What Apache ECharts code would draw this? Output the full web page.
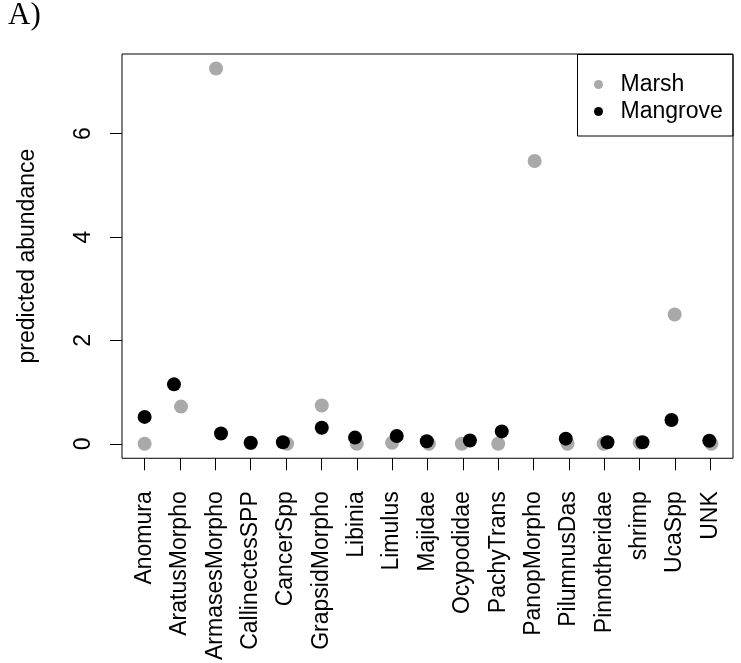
<!DOCTYPE html>
<html>
<head>
<meta charset="utf-8">
<script src="https://cdn.jsdelivr.net/npm/echarts@6/dist/echarts.min.js"></script>
<style>
  html, body { margin: 0; padding: 0; background: #fff; }
  #chart { width: 741px; height: 663px; }
</style>
</head>
<body>
<div id="chart"></div>
<script>
// Crab taxa on the x axis
const categories = [
  'Anomura', 'AratusMorpho', 'ArmasesMorpho', 'CallinectesSPP', 'CancerSpp',
  'GrapsidMorpho', 'Libinia', 'Limulus', 'Majidae', 'Ocypodidae', 'PachyTrans',
  'PanopMorpho', 'PilumnusDas', 'Pinnotheridae', 'shrimp', 'UcaSpp', 'UNK'
];

// Predicted abundance per taxon and habitat (null = not predicted)
const marsh = [0, 0.72, 7.26, 0.01, 0, 0.74, 0, 0.02, 0, 0, 0, 5.47, 0, 0, 0.02, 2.50, 0];
const mangrove = [0.52, 1.15, 0.20, 0.02, 0.03, 0.31, 0.12, 0.15, 0.05, 0.065, 0.24, null, 0.10, 0.03, 0.03, 0.46, 0.06];

// Horizontal jitter applied to each point (in category units)
const marshJitter = [0, 0.03, 0.02, 0, 0.03, 0.01, 0, 0, 0.04, -0.03, 0, 0.03, -0.04, -0.02, 0, -0.01, 0.03];
const mangroveJitter = [0, -0.17, 0.16, 0, -0.09, 0.01, -0.05, 0.13, -0.02, 0.2, 0.1, 0, -0.09, 0.09, 0.08, -0.1, -0.03];

const yTicks = [0, 2, 4, 6];
const seriesNames = ['Marsh', 'Mangrove'];

const FONT = '"Liberation Sans", Arial, sans-serif';
const catPositions = categories.map((_, i) => i + 1);

function points(values, jitter) {
  const out = [];
  values.forEach((v, i) => {
    if (v !== null) out.push([i + 1 + jitter[i], v]);
  });
  return out;
}

const chart = echarts.init(document.getElementById('chart'), null, { renderer: 'canvas' });

chart.setOption({
  animation: false,
  backgroundColor: '#fff',
  title: {
    text: 'A)',
    left: 8,
    top: 0,
    padding: 0,
    textStyle: { fontFamily: '"Liberation Serif", "Times New Roman", serif', fontSize: 31, fontWeight: 'normal', color: '#000' }
  },
  grid: {
    left: 122, right: 8, top: 54, bottom: 204,
    show: true, borderColor: '#000', borderWidth: 1, backgroundColor: 'transparent'
  },
  legend: {
    data: seriesNames,
    orient: 'vertical',
    left: 594,
    top: 73,
    padding: 0,
    itemGap: 4,
    itemWidth: 34,
    itemHeight: 9,
    icon: 'circle',
    selectedMode: false,
    textStyle: { fontFamily: FONT, fontSize: 23, color: '#000', lineHeight: 23 }
  },
  graphic: [{
    type: 'rect',
    shape: { x: 577.5, y: 54.5, width: 155.5, height: 81.5 },
    style: { fill: 'transparent', stroke: '#000', lineWidth: 1 },
    z: 10
  }],
  xAxis: {
    type: 'value',
    min: 0.36,
    max: 17.64,
    axisLine: { show: false, onZero: false },
    splitLine: { show: false },
    axisTick: { show: true, customValues: catPositions, length: 12, lineStyle: { color: '#000', width: 1 } },
    axisLabel: {
      customValues: catPositions,
      formatter: v => categories[Math.round(v) - 1],
      rotate: 90,
      margin: 33,
      fontFamily: FONT,
      fontSize: 23,
      color: '#000'
    }
  },
  yAxis: {
    type: 'value',
    min: -0.28,
    max: 7.54,
    name: 'predicted abundance',
    nameLocation: 'middle',
    nameGap: 83,
    nameTextStyle: { fontFamily: FONT, fontSize: 23, color: '#000' },
    axisLine: { show: false },
    splitLine: { show: false },
    axisTick: { show: true, customValues: yTicks, length: 12, lineStyle: { color: '#000', width: 1 } },
    axisLabel: {
      customValues: yTicks,
      rotate: 90,
      margin: 27,
      fontFamily: FONT,
      fontSize: 23,
      color: '#000'
    }
  },
  series: [
    {
      name: seriesNames[0],
      type: 'scatter',
      symbol: 'circle',
      symbolSize: 14,
      itemStyle: { color: '#a9a9a9', opacity: 1 },
      data: points(marsh, marshJitter)
    },
    {
      name: seriesNames[1],
      type: 'scatter',
      symbol: 'circle',
      symbolSize: 14,
      itemStyle: { color: '#000', opacity: 1 },
      data: points(mangrove, mangroveJitter)
    }
  ]
});
</script>
</body>
</html>
